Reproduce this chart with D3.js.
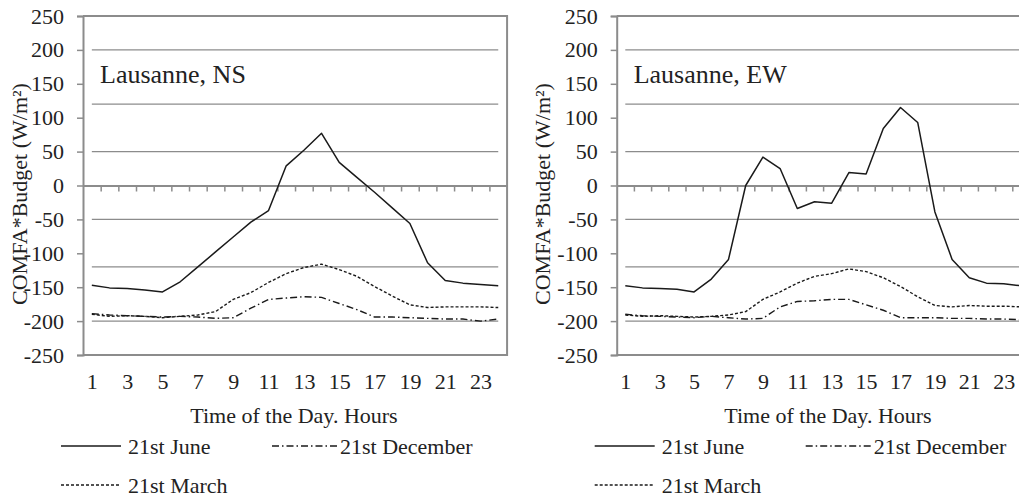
<!DOCTYPE html>
<html>
<head>
<meta charset="utf-8">
<script src="https://cdn.jsdelivr.net/npm/d3@7/dist/d3.min.js"></script>
<style>
  body { margin: 0; background: #fff; }
  svg text { font-family: 'Liberation Serif', 'Times New Roman', Times, 'DejaVu Serif', serif !important; fill: #222; }
</style>
</head>
<body>
<div id="chart"></div>
<script>
// Data
const hours = d3.range(1, 25)
const yTicks = [-250, -200, -150, -100, -50, 0, 50, 100, 150, 200, 250]
const xLabels = [1, 3, 5, 7, 9, 11, 13, 15, 17, 19, 21, 23]
const gridValues = [200, 120, 50, -50, -120, -200]

const juneNS = [-147, -151, -152, -154, -157, -142, -120, -98, -76, -54, -37, 29, 52, 77, 34, 12, -10, -33, -56, -114, -140, -144, -146, -148]
const marchNS = [-190, -193, -192, -193, -195, -193, -191, -186, -168, -158, -143, -130, -121, -116, -124, -134, -149, -163, -176, -180, -179, -179, -179, -180]
const decNS = [-189, -191, -192, -193, -194, -193, -194, -196, -195, -181, -168, -166, -164, -165, -174, -183, -194, -194, -195, -196, -197, -197, -200, -197]

const juneEW = [-148, -151, -152, -153, -157, -138, -109, 0, 42, 25, -34, -24, -26, 19, 17, 84, 115, 93, -39, -109, -136, -144, -145, -148]
const marchEW = [-191, -193, -192, -193, -194, -193, -191, -186, -168, -157, -144, -134, -130, -123, -127, -136, -149, -164, -177, -179, -177, -178, -178, -179]
const decEW = [-190, -192, -193, -194, -195, -193, -195, -197, -196, -179, -171, -170, -168, -168, -176, -184, -195, -195, -195, -196, -196, -197, -197, -198]

// line styles per series
const styles = {
    '21st June': { dash: null, width: 1.5 },
    '21st December': { dash: '7,3,1.5,3', width: 1.4 },
    '21st March': { dash: '3,2', width: 1.4 }
}

const serif = "'Liberation Serif', 'Times New Roman', Times, 'DejaVu Serif', serif"

const svg = d3.select('#chart')
    .append('svg')
    .attr('width', 1019)
    .attr('height', 498)
    .style('font-family', serif)

const gray = '#8c8c8c'

function drawPanel(opts) {
    const g = svg.append('g')

    const y = d3.scaleLinear()
        .domain([-250, 250])
        .range([355, 16])

    // category axis: hour h sits in the middle of its band
    const x = d3.scaleLinear()
        .domain([0.5, 24.5])
        .range([opts.left, opts.left + 24 * opts.step])

    // gridlines
    g.append('g')
        .selectAll('line')
        .data(gridValues)
        .join('line')
        .attr('x1', x(1))
        .attr('x2', x(24))
        .attr('y1', d => y(d))
        .attr('y2', d => y(d))
        .attr('stroke', gray)
        .attr('stroke-width', 1.4)

    // frame (top, right, bottom)
    g.append('path')
        .attr('d', `M${x(0.5)},${y(250)}H${x(24.5)}V${y(-250)}H${x(0.5)}`)
        .attr('fill', 'none')
        .attr('stroke', gray)
        .attr('stroke-width', 2)

    // y axis
    const yAxis = g.append('g')
        .attr('transform', `translate(${x(0.5)},0)`)
        .call(d3.axisLeft(y)
            .tickValues(yTicks)
            .tickSize(6)
            .tickPadding(13)
            .tickFormat(d => String(d)))
    yAxis.attr('font-family', serif)
    yAxis.select('.domain').attr('stroke', gray).attr('stroke-width', 2)
    yAxis.selectAll('.tick line').attr('stroke', gray).attr('stroke-width', 1.5)
    yAxis.selectAll('.tick text')
        .attr('font-size', 22)
        .style('font-family', serif)
        .attr('fill', '#222')

    // zero line with hour ticks
    const zeroAxis = g.append('g')
        .attr('transform', `translate(0,${y(0)})`)
        .call(d3.axisBottom(x)
            .tickValues(d3.range(1.5, 24, 1))
            .tickSize(6)
            .tickSizeOuter(0)
            .tickFormat(''))
    zeroAxis.select('.domain').attr('stroke', gray).attr('stroke-width', 2)
    zeroAxis.selectAll('.tick line').attr('stroke', gray).attr('stroke-width', 1.5)

    // hour labels
    const xAxis = g.append('g')
        .attr('transform', `translate(0,${y(-250)})`)
        .call(d3.axisBottom(x)
            .tickValues(xLabels)
            .tickSize(0)
            .tickPadding(18))
    xAxis.attr('font-family', serif)
    xAxis.select('.domain').remove()
    xAxis.selectAll('.tick text')
        .attr('font-size', 22)
        .style('font-family', serif)
        .attr('fill', '#222')

    // lines
    const line = d3.line()
        .x((d, i) => x(hours[i]))
        .y(d => y(d))

    const data = [
        { name: '21st March', values: opts.march },
        { name: '21st December', values: opts.dec },
        { name: '21st June', values: opts.june }
    ]
    g.append('g')
        .selectAll('path')
        .data(data)
        .join('path')
        .attr('d', d => line(d.values))
        .attr('fill', 'none')
        .attr('stroke', '#1a1a1a')
        .attr('stroke-width', d => styles[d.name].width)
        .attr('stroke-dasharray', d => styles[d.name].dash)
        .attr('stroke-linejoin', 'round')

    // title inside plot
    g.append('text')
        .attr('x', opts.left + 17)
        .attr('y', 83)
        .attr('font-size', 26)
        .style('font-family', serif)
        .text(opts.title)

    // axis titles
    g.append('text')
        .attr('x', opts.xTitleX)
        .attr('y', 423)
        .attr('text-anchor', 'middle')
        .attr('font-size', 22)
        .style('font-family', serif)
        .text('Time of the Day. Hours')

    g.append('text')
        .attr('transform', `translate(${opts.yTitleX},194) rotate(-90)`)
        .attr('text-anchor', 'middle')
        .attr('font-size', 22)
        .style('font-family', serif)
        .text('COMFA*Budget (W/m²)')

    // legend
    const lx = opts.left - 22
    const legendItems = [
        { name: '21st June', x: lx, y: 446, len: 60, gap: 7 },
        { name: '21st December', x: lx + 211, y: 446, len: 65, gap: 3 },
        { name: '21st March', x: lx, y: 485, len: 60, gap: 7 }
    ]
    const leg = g.append('g')
        .selectAll('g')
        .data(legendItems)
        .join('g')
        .attr('transform', d => `translate(${d.x},${d.y})`)
    leg.append('line')
        .attr('x1', 0)
        .attr('x2', d => d.len)
        .attr('stroke', '#1a1a1a')
        .attr('stroke-width', d => styles[d.name].width)
        .attr('stroke-dasharray', d => styles[d.name].dash)
    leg.append('text')
        .attr('x', d => d.len + d.gap)
        .attr('y', 7.5)
        .attr('font-size', 22)
        .style('font-family', serif)
        .text(d => d.name)
}

drawPanel({ left: 83, step: 17.67, title: 'Lausanne, NS', june: juneNS, march: marchNS, dec: decNS, xTitleX: 294, yTitleX: 27 })
drawPanel({ left: 616.7, step: 17.2, title: 'Lausanne, EW', june: juneEW, march: marchEW, dec: decEW, xTitleX: 828, yTitleX: 550 })
</script>
</body>
</html>
